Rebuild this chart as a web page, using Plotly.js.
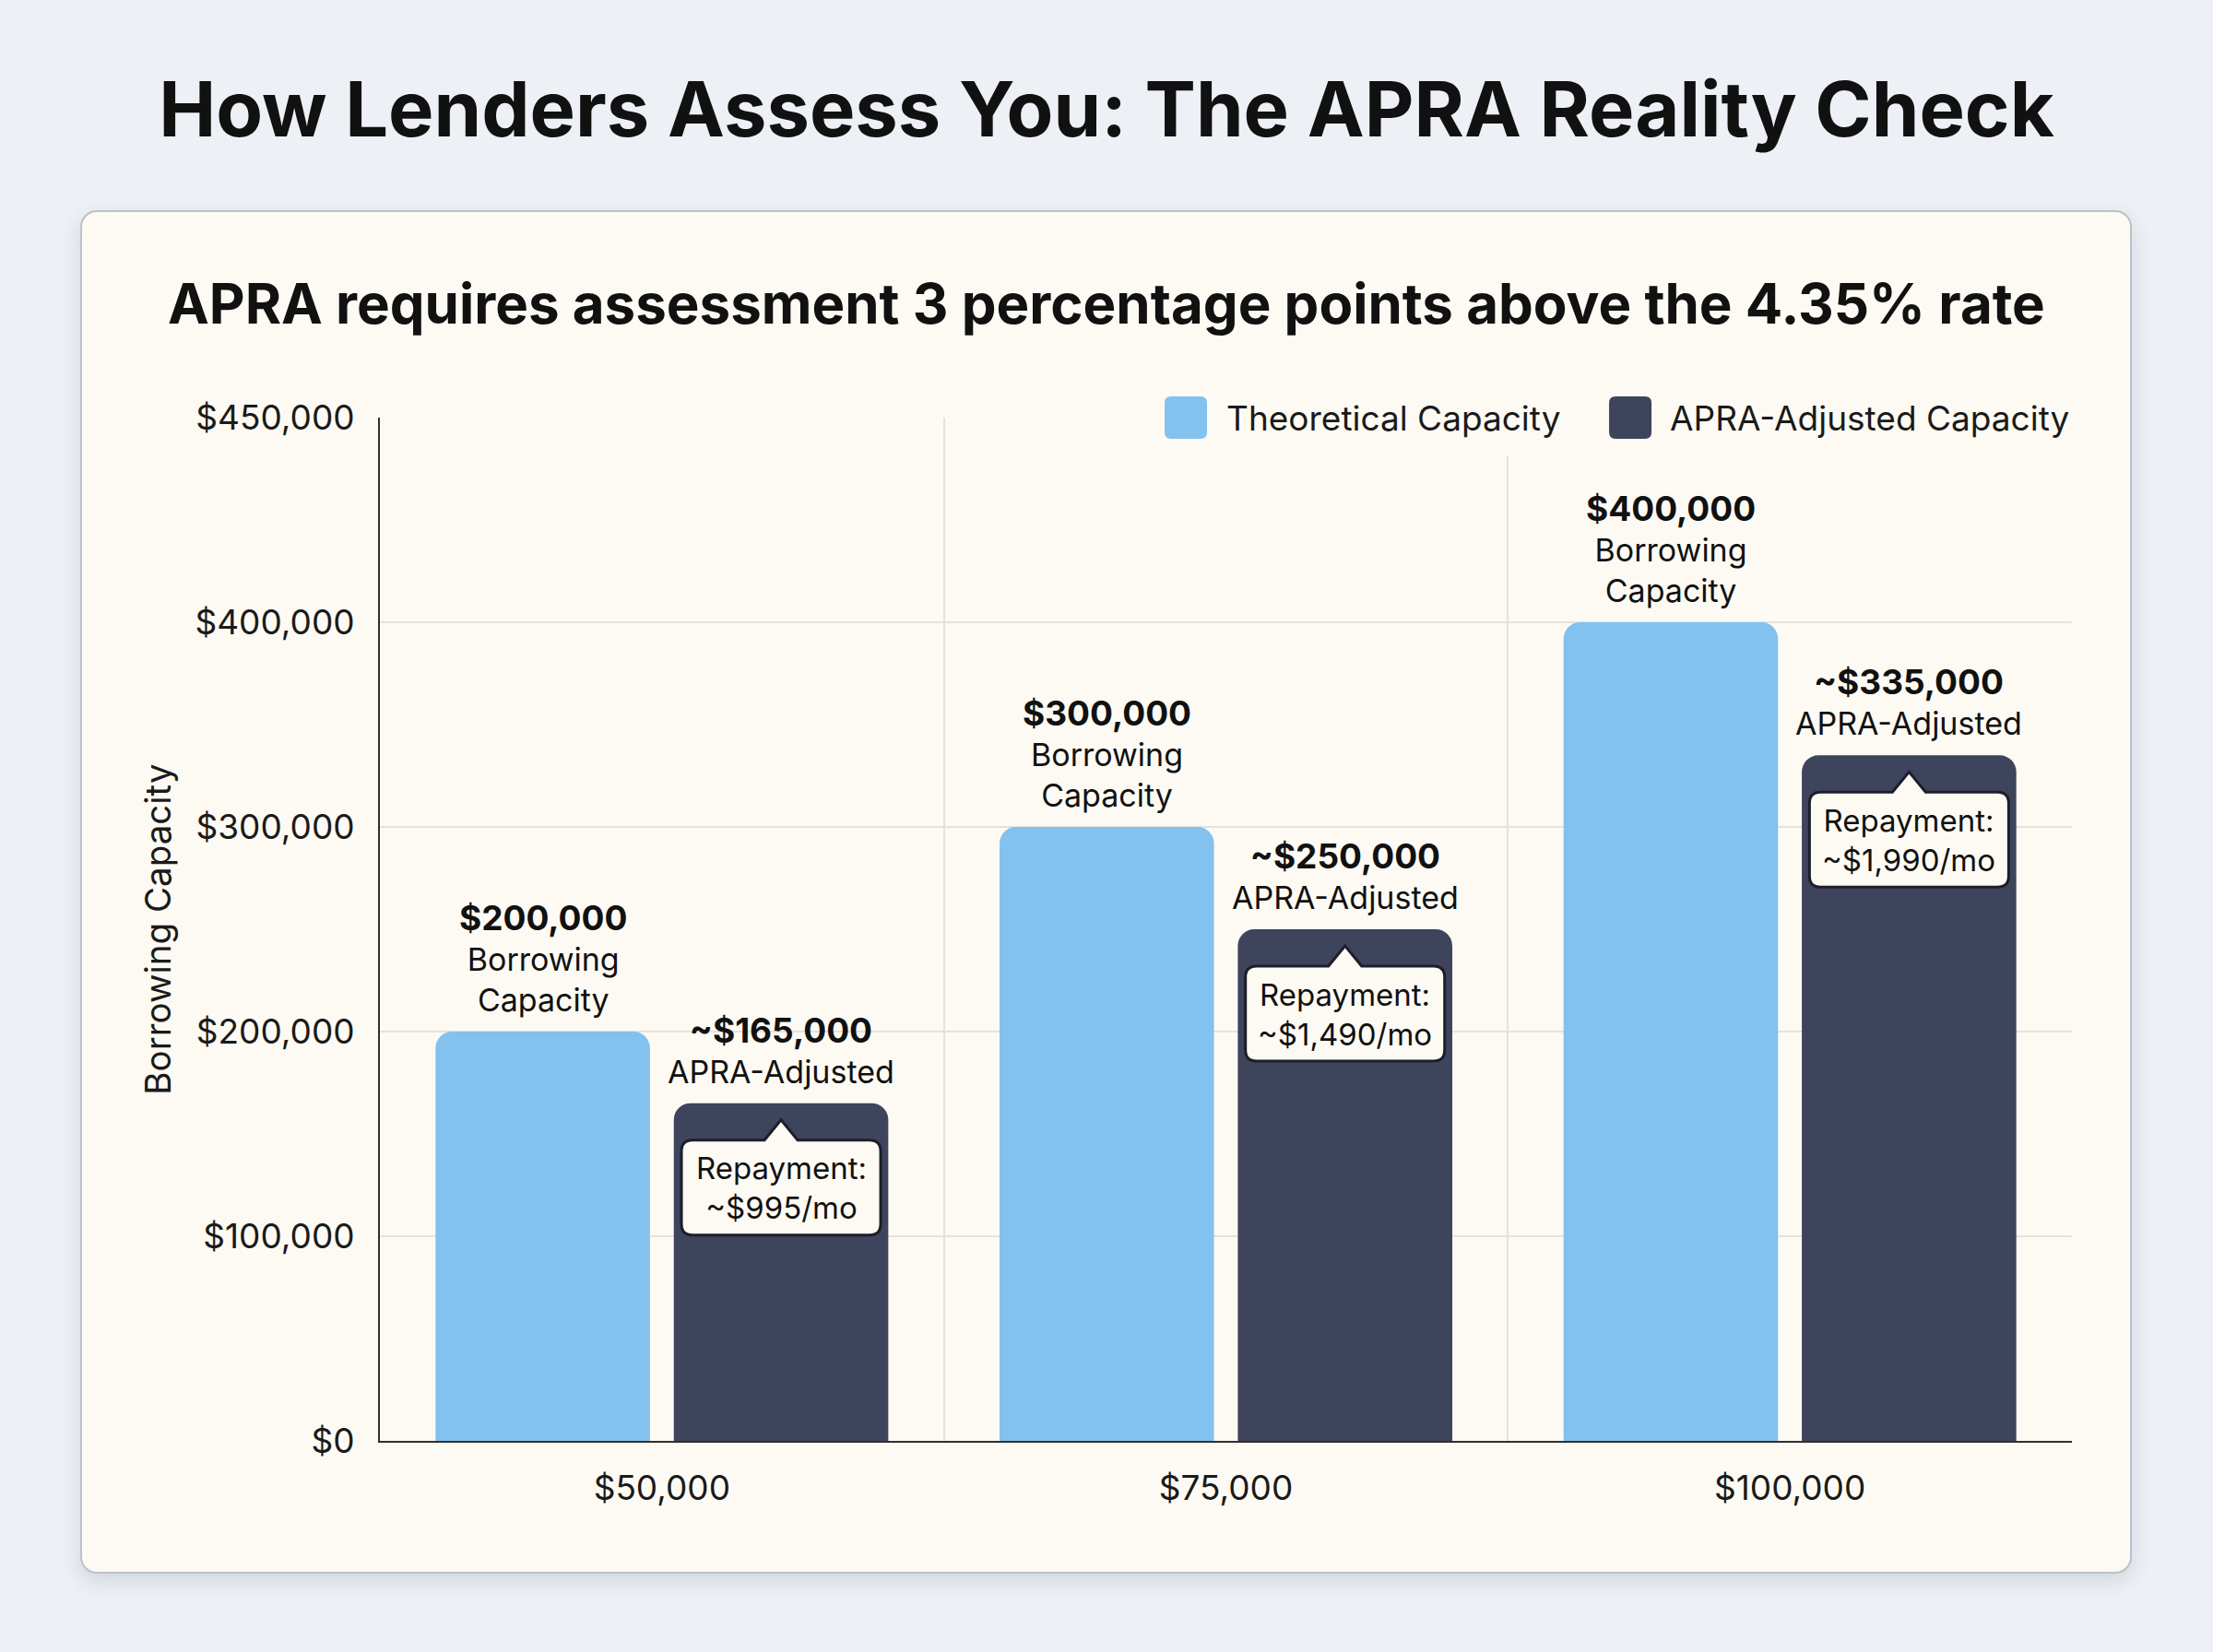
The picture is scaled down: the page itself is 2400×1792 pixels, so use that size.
<!DOCTYPE html>
<html>
<head>
<meta charset="utf-8">
<script src="https://cdn.plot.ly/plotly-3.0.1.min.js"></script>
<style>
    html, body { margin: 0; padding: 0; }
    body { width: 2400px; height: 1792px; background: #edf1f6; position: relative; overflow: hidden; font-family: Inter, sans-serif; }
    .card {
        position: absolute; left: 87px; top: 228px; width: 2225px; height: 1479px;
        box-sizing: border-box; background: #fdfaf3; border: 2px solid #bcc1c9;
        border-radius: 18px; box-shadow: 0 8px 22px rgba(40, 50, 70, 0.14);
    }
    #chart { position: absolute; left: 0; top: 0; width: 2400px; height: 1792px; }
</style>
</head>
<body>
<div class="card"></div>
<div id="chart"></div>
<script>
// data
const incomes = ["$50,000", "$75,000", "$100,000"];
const theoretical = [200000, 300000, 400000];
const apraAdjusted = [165000, 250000, 335000];
const repayments = ["~$995/mo", "~$1,490/mo", "~$1,990/mo"];
const yTickVals = [0, 100000, 200000, 300000, 400000, 500000];
const yTickText = ["$0", "$100,000", "$200,000", "$300,000", "$400,000", "$450,000"];

const lightBlue = "#83c1ee";
const darkNavy = "#3e445c";
const cardBg = "#fdfaf3";
const ink = "#111111";
const bargap = 0.155;
const off = (1 - bargap) / 4;  // bar centre offset in category units

function money(v) {
    return "$" + v.toLocaleString("en-US");
}

let traces = [
    { type: "bar", name: "Theoretical Capacity", x: incomes, y: theoretical,
      marker: { color: lightBlue }, showlegend: false, hoverinfo: "none" },
    { type: "bar", name: "APRA-Adjusted Capacity", x: incomes, y: apraAdjusted,
      marker: { color: darkNavy }, showlegend: false, hoverinfo: "none" }
];

let annotations = [];
let shapes = [];

// cover behind the legend so grid lines stop under it
shapes.push({ type: "rect", xref: "paper", yref: "paper", x0: 0.448, x1: 1.01, y0: 0.963, y1: 1.03,
    fillcolor: cardBg, line: { width: 0 }, layer: "above" });

function roundBox(w, h, r) {
    // rounded square around the anchor, pixel units, y up
    let x0 = -w / 2, x1 = w / 2, y0 = -h / 2, y1 = h / 2;
    return "M" + (x0 + r) + "," + y1 + " L" + (x1 - r) + "," + y1 + " Q" + x1 + "," + y1 + " " + x1 + "," + (y1 - r) +
        " L" + x1 + "," + (y0 + r) + " Q" + x1 + "," + y0 + " " + (x1 - r) + "," + y0 +
        " L" + (x0 + r) + "," + y0 + " Q" + x0 + "," + y0 + " " + x0 + "," + (y0 + r) +
        " L" + x0 + "," + (y1 - r) + " Q" + x0 + "," + y1 + " " + (x0 + r) + "," + y1 + " Z";
}

function calloutPath(w, top, h, r, notch, tip) {
    let x0 = -w / 2, x1 = w / 2, y1 = -top, y0 = -top - h;
    return "M" + (x0 + r) + "," + y1 + " L" + (-notch) + "," + y1 + " L0," + (-tip) + " L" + notch + "," + y1 +
        " L" + (x1 - r) + "," + y1 + " Q" + x1 + "," + y1 + " " + x1 + "," + (y1 - r) +
        " L" + x1 + "," + (y0 + r) + " Q" + x1 + "," + y0 + " " + (x1 - r) + "," + y0 +
        " L" + (x0 + r) + "," + y0 + " Q" + x0 + "," + y0 + " " + x0 + "," + (y0 + r) +
        " L" + x0 + "," + (y1 - r) + " Q" + x0 + "," + y1 + " " + (x0 + r) + "," + y1 + " Z";
}

for (let i = 0; i < incomes.length; i++) {
    annotations.push({
        xref: "x", yref: "y", x: i - off, y: theoretical[i], yanchor: "bottom", yshift: 12,
        showarrow: false, align: "center", font: { family: "Inter", size: 34, color: ink },
        text: "<b><span style='font-size:37px'>" + money(theoretical[i]) + "</span></b><br>Borrowing<br>Capacity"
    });
    annotations.push({
        xref: "x", yref: "y", x: i + off, y: apraAdjusted[i], yanchor: "bottom", yshift: 12,
        showarrow: false, align: "center", font: { family: "Inter", size: 34, color: ink },
        text: "<b><span style='font-size:37px'>~" + money(apraAdjusted[i]) + "</span></b><br>APRA-Adjusted"
    });
    shapes.push({
        type: "path", xref: "x", yref: "y", xsizemode: "pixel", ysizemode: "pixel",
        xanchor: i + off, yanchor: apraAdjusted[i], layer: "above",
        path: calloutPath(216, 40, 103, 12, 18, 18),
        fillcolor: cardBg, line: { color: "#1c1f2b", width: 3 }
    });
    annotations.push({
        xref: "x", yref: "y", x: i + off, y: apraAdjusted[i], yanchor: "middle", yshift: -92,
        showarrow: false, align: "center", font: { family: "Inter", size: 33, color: ink },
        text: "Repayment:<br>" + repayments[i]
    });
}

// legend drawn by hand so the swatches can be large rounded squares
let legendItems = [
    { label: traces[0].name, color: lightBlue, swatchX: 0.4763, textX: 0.4993 },
    { label: traces[1].name, color: darkNavy, swatchX: 0.7390, textX: 0.7613 }
];
legendItems.forEach(function (item) {
    shapes.push({
        type: "path", xref: "paper", yref: "paper", xsizemode: "pixel", ysizemode: "pixel",
        xanchor: item.swatchX, yanchor: 1.0, layer: "above",
        path: roundBox(46, 46, 7), fillcolor: item.color, line: { width: 0 }
    });
    annotations.push({
        xref: "paper", yref: "paper", x: item.textX, y: 1.0, xanchor: "left", yanchor: "middle",
        showarrow: false, text: item.label, font: { family: "Inter", size: 37, color: "#1a1a1a" }
    });
});

annotations.push({
    xref: "paper", yref: "paper", x: 0.4294, y: 1.1117, xanchor: "center", yanchor: "middle",
    showarrow: false, text: "<b>APRA requires assessment 3 percentage points above the 4.35% rate</b>",
    font: { family: "Inter", size: 60, color: ink }
});

let layout = {
    width: 2400,
    height: 1792,
    paper_bgcolor: "rgba(0,0,0,0)",
    plot_bgcolor: "rgba(0,0,0,0)",
    margin: { l: 412, r: 153, t: 453, b: 229 },
    font: { family: "Inter", color: ink },
    title: {
        text: "<b>How Lenders Assess You: The APRA Reality Check</b>",
        font: { family: "Inter", size: 83, color: ink },
        x: 0.5, xref: "container", xanchor: "center",
        y: 0.9336, yref: "container", yanchor: "middle"
    },
    barmode: "group",
    bargap: bargap,
    bargroupgap: 0.1,
    barcornerradius: 18,
    showlegend: false,
    xaxis: {
        type: "category",
        tickson: "boundaries",
        showgrid: true, gridcolor: "#e4e2dc", gridwidth: 2,
        showline: true, linecolor: "#2f2f2f", linewidth: 2,
        ticks: "", ticklabelstandoff: 18,
        tickfont: { family: "Inter", size: 37, color: "#1a1a1a" }
    },
    yaxis: {
        range: [0, 500000],
        tickvals: yTickVals, ticktext: yTickText,
        showgrid: true, gridcolor: "#e4e2dc", gridwidth: 2,
        zeroline: false,
        showline: true, linecolor: "#2f2f2f", linewidth: 2,
        ticks: "", ticklabelstandoff: 18,
        tickfont: { family: "Inter", size: 37, color: "#1a1a1a" },
        title: { text: "Borrowing Capacity", standoff: 14, font: { family: "Inter", size: 38.5, color: "#1a1a1a" } }
    },
    shapes: shapes,
    annotations: annotations
};

Plotly.newPlot("chart", traces, layout, { displayModeBar: false, staticPlot: true });
</script>
</body>
</html>
